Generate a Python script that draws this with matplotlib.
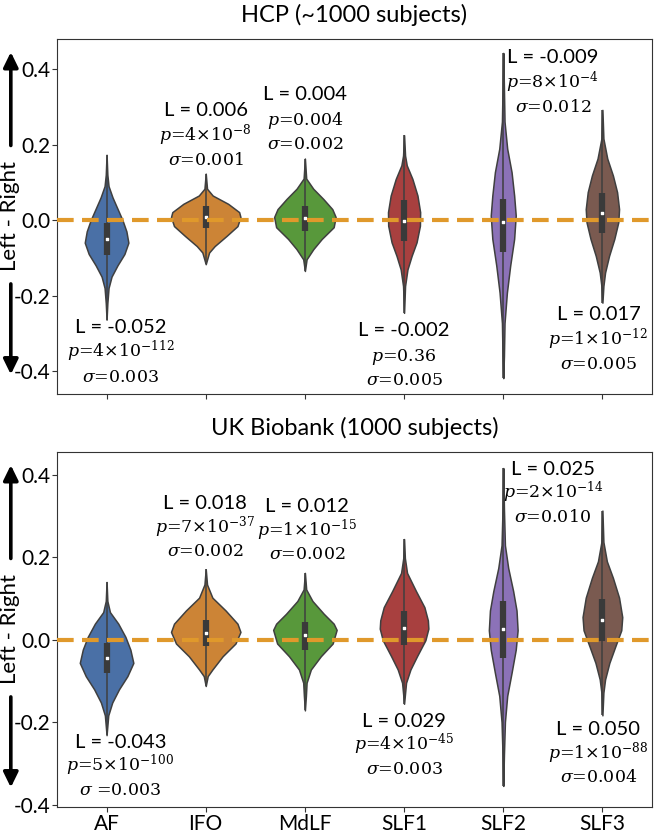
import matplotlib
matplotlib.use('Agg')
import matplotlib.pyplot as plt

plt.rcParams['font.family'] = ['Lato', 'DejaVu Sans']
plt.rcParams['mathtext.fontset'] = 'dejavuserif'
plt.rcParams['axes.unicode_minus'] = False

tracts = ['AF', 'IFO', 'MdLF', 'SLF1', 'SLF2', 'SLF3']
colors = ['#4a70a6', '#cc8436', '#58983b', '#a8403f', '#8c72b8', '#7a5a50']

# ---- HCP: violin outlines (y value, half width) ----
hcp_y = [
    [0.173, 0.12, 0.09, 0.06, 0.03, 0.0, -0.03, -0.06, -0.09, -0.12, -0.15, -0.18, -0.22, -0.264],
    [0.123, 0.083, 0.065, 0.043, 0.021, 0.008, -0.016, -0.042, -0.069, -0.086, -0.117],
    [0.163, 0.11, 0.083, 0.056, 0.029, 0.008, -0.019, -0.05, -0.077, -0.104, -0.135],
    [0.225, 0.171, 0.145, 0.109, 0.065, 0.021, -0.015, -0.059, -0.095, -0.131, -0.175, -0.246],
    [0.443, 0.349, 0.261, 0.189, 0.127, 0.065, 0.012, -0.05, -0.121, -0.192, -0.273, -0.361, -0.419],
    [0.292, 0.216, 0.163, 0.118, 0.074, 0.029, -0.006, -0.05, -0.095, -0.139, -0.175, -0.219],
]
hcp_w = [
    [0.0, 0.008, 0.02, 0.06, 0.11, 0.16, 0.20, 0.22, 0.18, 0.11, 0.05, 0.02, 0.008, 0.0],
    [0.0, 0.013, 0.07, 0.226, 0.337, 0.35, 0.32, 0.21, 0.09, 0.034, 0.0],
    [0.0, 0.013, 0.084, 0.185, 0.276, 0.31, 0.29, 0.17, 0.085, 0.017, 0.0],
    [0.0, 0.01, 0.027, 0.084, 0.135, 0.162, 0.16, 0.126, 0.076, 0.034, 0.01, 0.0],
    [0.0, 0.007, 0.013, 0.04, 0.084, 0.11, 0.126, 0.11, 0.07, 0.037, 0.013, 0.007, 0.0],
    [0.0, 0.01, 0.049, 0.106, 0.148, 0.168, 0.16, 0.12, 0.067, 0.027, 0.01, 0.0],
]
hcp_q1 = [-0.093, -0.021, -0.029, -0.055, -0.085, -0.035]
hcp_med = [-0.051, 0.008, 0.005, -0.002, -0.006, 0.019]
hcp_q3 = [-0.008, 0.037, 0.037, 0.053, 0.056, 0.072]
hcp_L = ['L = -0.052', 'L = 0.006', 'L = 0.004', 'L = -0.002', 'L = -0.009', 'L = 0.017']
hcp_p = [r'$p$=4$\times$10$^{-112}$', r'$p$=4$\times$10$^{-8}$', r'$p$=0.004',
         r'$p$=0.36', r'$p$=8$\times$10$^{-4}$', r'$p$=1$\times$10$^{-12}$']
hcp_sd = [r'$\sigma$=0.003', r'$\sigma$=0.001', r'$\sigma$=0.002',
          r'$\sigma$=0.005', r'$\sigma$=0.012', r'$\sigma$=0.005']

# ---- UK Biobank ----
ukb_y = [
    [0.140, 0.094, 0.067, 0.039, 0.007, -0.024, -0.056, -0.088, -0.12, -0.152, -0.183, -0.231],
    [0.171, 0.134, 0.102, 0.071, 0.039, 0.019, -0.009, -0.04, -0.072, -0.088, -0.112],
    [0.162, 0.122, 0.094, 0.063, 0.039, 0.024, -0.009, -0.04, -0.072, -0.104, -0.136, -0.171],
    [0.244, 0.198, 0.162, 0.118, 0.079, 0.047, 0.027, -0.001, -0.04, -0.072, -0.104, -0.155],
    [0.416, 0.317, 0.229, 0.174, 0.118, 0.071, 0.023, -0.024, -0.08, -0.136, -0.199, -0.279, -0.354],
    [0.313, 0.237, 0.19, 0.15, 0.102, 0.055, 0.023, -0.016, -0.056, -0.096, -0.128, -0.183],
]
ukb_w = [
    [0.0, 0.008, 0.034, 0.118, 0.19, 0.24, 0.27, 0.21, 0.125, 0.057, 0.017, 0.0],
    [0.0, 0.013, 0.067, 0.2, 0.32, 0.35, 0.30, 0.17, 0.067, 0.02, 0.0],
    [0.0, 0.013, 0.076, 0.19, 0.29, 0.32, 0.28, 0.16, 0.06, 0.017, 0.01, 0.0],
    [0.0, 0.008, 0.03, 0.12, 0.205, 0.24, 0.245, 0.215, 0.13, 0.064, 0.02, 0.0],
    [0.0, 0.007, 0.017, 0.05, 0.1, 0.134, 0.145, 0.126, 0.084, 0.04, 0.017, 0.007, 0.0],
    [0.0, 0.01, 0.045, 0.106, 0.168, 0.2, 0.19, 0.13, 0.07, 0.027, 0.01, 0.0],
]
ukb_q1 = [-0.08, -0.015, -0.025, -0.013, -0.044, -0.004]
ukb_med = [-0.043, 0.017, 0.012, 0.028, 0.025, 0.049]
ukb_q3 = [-0.007, 0.047, 0.043, 0.069, 0.094, 0.098]
ukb_L = ['L = -0.043', 'L = 0.018', 'L = 0.012', 'L = 0.029', 'L = 0.025', 'L = 0.050']
ukb_p = [r'$p$=5$\times$10$^{-100}$', r'$p$=7$\times$10$^{-37}$', r'$p$=1$\times$10$^{-15}$',
         r'$p$=4$\times$10$^{-45}$', r'$p$=2$\times$10$^{-14}$', r'$p$=1$\times$10$^{-88}$']
ukb_sd = [r'$\sigma$ =0.003', r'$\sigma$=0.002', r'$\sigma$=0.002',
          r'$\sigma$=0.003', r'$\sigma$=0.010', r'$\sigma$=0.004']

# text placement (x centre, baseline of the "L =" line)
hcp_tx = [0.14, 1.0, 2.0, 3.0, 4.5, 4.96]
hcp_ty = [-0.299, 0.277, 0.318, -0.308, 0.416, -0.266]
ukb_tx = [0.14, 0.99, 2.02, 3.0, 4.5, 4.96]
ukb_ty = [-0.261, 0.318, 0.309, -0.211, 0.400, -0.231]

fig = plt.figure(figsize=(6.55, 8.34), dpi=100)
ax1 = fig.add_axes([0.087, 0.5276, 0.9084, 0.4257])
ax2 = fig.add_axes([0.087, 0.0324, 0.9084, 0.4257])


def draw_panel(ax, ys, ws, q1, med, q3, Ls, ps, sds, tx, ty, dy, title, ylim):
    pos = list(range(len(tracts)))
    stats = []
    for i in pos:
        stats.append(dict(coords=ys[i], vals=ws[i], mean=med[i], median=med[i],
                          min=min(ys[i]), max=max(ys[i])))
    widths = [2 * max(w) for w in ws]
    parts = ax.violin(stats, positions=pos, widths=widths, showmeans=False,
                      showextrema=False, showmedians=False)
    for body, c in zip(parts['bodies'], colors):
        body.set_facecolor(c)
        body.set_edgecolor('#3f3f3f')
        body.set_linewidth(1.1)
        body.set_alpha(1)
    # inner box
    ax.vlines(pos, [min(y) for y in ys], [max(y) for y in ys], color='#3f3f3f', lw=1.1, zorder=3)
    ax.vlines(pos, q1, q3, color='#3a3a3a', lw=4.5, zorder=3)
    ax.scatter(pos, med, s=3, marker='s', color='white', zorder=4)

    ax.axhline(0, color='#e0992b', lw=3, dashes=(4, 2), zorder=5)

    for i in pos:
        ax.text(tx[i], ty[i], Ls[i], ha='center', va='baseline', fontsize=14.5)
        ax.text(tx[i], ty[i] - dy, ps[i], ha='center', va='baseline', fontsize=12.5,
                family='DejaVu Serif')
        ax.text(tx[i], ty[i] - 2 * dy, sds[i], ha='center', va='baseline', fontsize=12.5,
                family='DejaVu Serif')

    ax.set_xlim(-0.5, 5.5)
    ax.set_ylim(*ylim)
    ax.set_yticks([-0.4, -0.2, 0.0, 0.2, 0.4])
    ax.set_yticklabels(['-0.4', '-0.2', '0.0', '0.2', '0.4'])
    ax.set_xticks(pos)
    ax.tick_params(labelsize=15, color='#333333', length=3.5, pad=1.5)
    for s in ax.spines.values():
        s.set_color('#333333')
    ax.set_title(title, fontsize=17, pad=12)

    # "Left - Right" label with arrows
    ax.text(-0.079, 0.5, 'Left - Right', transform=ax.transAxes, rotation=90,
            ha='center', va='center', fontsize=16)
    arw = dict(arrowstyle='-|>,head_length=0.45,head_width=0.22', lw=2.6, color='black',
               mutation_scale=20, shrinkA=0, shrinkB=0)
    ax.annotate('', xy=(-0.0776, 0.963), xytext=(-0.0776, 0.70), xycoords='axes fraction',
                arrowprops=arw, annotation_clip=False)
    ax.annotate('', xy=(-0.0776, 0.055), xytext=(-0.0776, 0.31), xycoords='axes fraction',
                arrowprops=arw, annotation_clip=False)


draw_panel(ax1, hcp_y, hcp_w, hcp_q1, hcp_med, hcp_q3, hcp_L, hcp_p, hcp_sd,
           hcp_tx, hcp_ty, 0.065, 'HCP (~1000 subjects)', (-0.461, 0.48))
ax1.set_xticklabels([])
draw_panel(ax2, ukb_y, ukb_w, ukb_q1, ukb_med, ukb_q3, ukb_L, ukb_p, ukb_sd,
           ukb_tx, ukb_ty, 0.057, 'UK Biobank (1000 subjects)', (-0.405, 0.455))
ax2.set_xticklabels(tracts)

fig.savefig('out.png', dpi=100)
